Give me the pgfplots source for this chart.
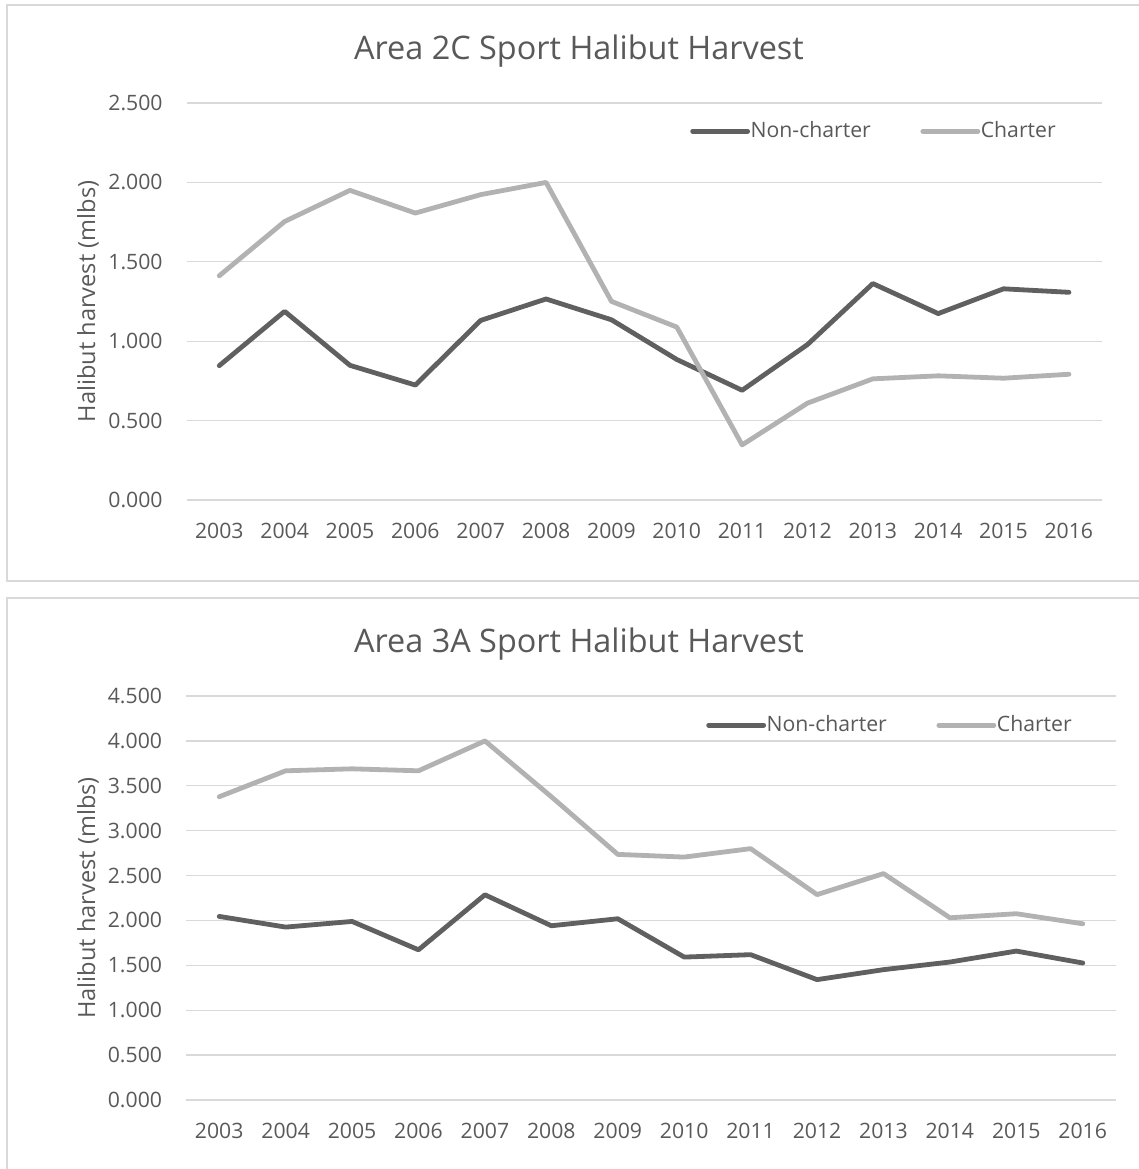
\documentclass[border=0pt]{standalone}
\usepackage{fontspec}
\setmainfont{Open Sans}
\usepackage{pgfplots}
\usepackage{pgfplotstable}
\pgfplotsset{compat=1.18}
\definecolor{txt}{HTML}{595959}
\definecolor{gridc}{HTML}{D9D9D9}
\definecolor{nonc}{HTML}{606060}
\definecolor{chart}{HTML}{B2B2B2}

\pgfplotstableread{
year nonc chart
2003 0.846 1.412
2004 1.188 1.754
2005 0.848 1.950
2006 0.724 1.807
2007 1.131 1.923
2008 1.266 2.000
2009 1.135 1.251
2010 0.885 1.089
2011 0.691 0.347
2012 0.979 0.610
2013 1.363 0.763
2014 1.174 0.782
2015 1.330 0.767
2016 1.308 0.792
}\areaTwoC

\pgfplotstableread{
year nonc chart
2003 2.045 3.378
2004 1.926 3.667
2005 1.989 3.689
2006 1.673 3.667
2007 2.286 4.000
2008 1.941 3.378
2009 2.019 2.736
2010 1.592 2.706
2011 1.619 2.800
2012 1.341 2.288
2013 1.452 2.522
2014 1.537 2.030
2015 1.659 2.075
2016 1.526 1.963
}\areaThreeA

\pgfplotsset{
  halibut/.style={
    scale only axis,
    anchor=south west,
    xmin=2002.5, xmax=2016.5,
    ymin=0,
    axis line style={draw=none},
    major tick length=0pt,
    ymajorgrids,
    grid style={draw=gridc, line width=0.65pt},
    xtick={2003,...,2016},
    xticklabels={2003,2004,2005,2006,2007,2008,2009,2010,2011,2012,2013,2014,2015,2016},
    tick label style={font=\fontsize{10.6}{12}\selectfont, text=txt, inner sep=0pt},
    xticklabel style={anchor=north, yshift=-11.35pt},
    yticklabel style={anchor=east, xshift=-11.8pt},
    clip=false,
    legend columns=2,
    legend style={draw=none, fill=none, anchor=west, inner sep=0pt,
      nodes={inner sep=0.3pt},
      font=\fontsize{10.6}{12}\selectfont, text=txt,
      /tikz/every even column/.append style={column sep=24.5pt}},
    legend image code/.code={\draw[##1, line cap=round] (0pt,0pt) -- (27.5pt,0pt);},
  },
  ncline/.style={draw=nonc, line width=2.4pt, line join=round, line cap=round, mark=none},
  chline/.style={draw=chart, line width=2.4pt, line join=round, line cap=round, mark=none},
}

\begin{document}
\begin{tikzpicture}
\path[use as bounding box] (0pt,0pt) rectangle (569.5pt,-584.5pt);
% frames
\draw[gridc, line width=0.65pt] (569.5pt,-2.5pt) -- (3.5pt,-2.5pt) -- (3.5pt,-290.5pt) -- (569.5pt,-290.5pt);
\draw[gridc, line width=0.65pt] (569.5pt,-299pt) -- (3.5pt,-299pt) -- (3.5pt,-584.5pt);

% titles
\node[anchor=base, text=txt, font=\fontsize{16.2}{19}\selectfont, inner sep=0pt] at (289.5pt,-29.65pt) {Area 2C Sport Halibut Harvest};
\node[anchor=base, text=txt, font=\fontsize{16.2}{19}\selectfont, inner sep=0pt] at (289.5pt,-326.2pt) {Area 3A Sport Halibut Harvest};

% y labels
\node[rotate=90, text=txt, font=\fontsize{11.8}{14}\selectfont, inner sep=0pt] at (44pt,-150.75pt) {Halibut harvest (mlbs)};
\node[rotate=90, text=txt, font=\fontsize{11.8}{14}\selectfont, inner sep=0pt] at (44pt,-449pt) {Halibut harvest (mlbs)};

\begin{axis}[halibut,
  at={(93.3pt,-250pt)}, width=457.5pt, height=198.5pt,
  ymax=2.5, ytick={0,0.5,1,1.5,2,2.5},
  yticklabels={0.000,0.500,1.000,1.500,2.000,2.500},
  legend style={at={(0.55,0.929)}},
]
\addplot[ncline] table[x=year, y=nonc] {\areaTwoC};
\addlegendentry{Non-charter}
\addplot[chline] table[x=year, y=chart] {\areaTwoC};
\addlegendentry{Charter}
\end{axis}

\begin{axis}[halibut,
  at={(93pt,-550pt)}, width=465pt, height=202pt,
  ymax=4.5, ytick={0,0.5,1,1.5,2,2.5,3,3.5,4,4.5},
  yticklabels={0.000,0.500,1.000,1.500,2.000,2.500,3.000,3.500,4.000,4.500},
  legend style={at={(0.559,0.928)}},
]
\addplot[ncline] table[x=year, y=nonc] {\areaThreeA};
\addlegendentry{Non-charter}
\addplot[chline] table[x=year, y=chart] {\areaThreeA};
\addlegendentry{Charter}
\end{axis}
\end{tikzpicture}
\end{document}
